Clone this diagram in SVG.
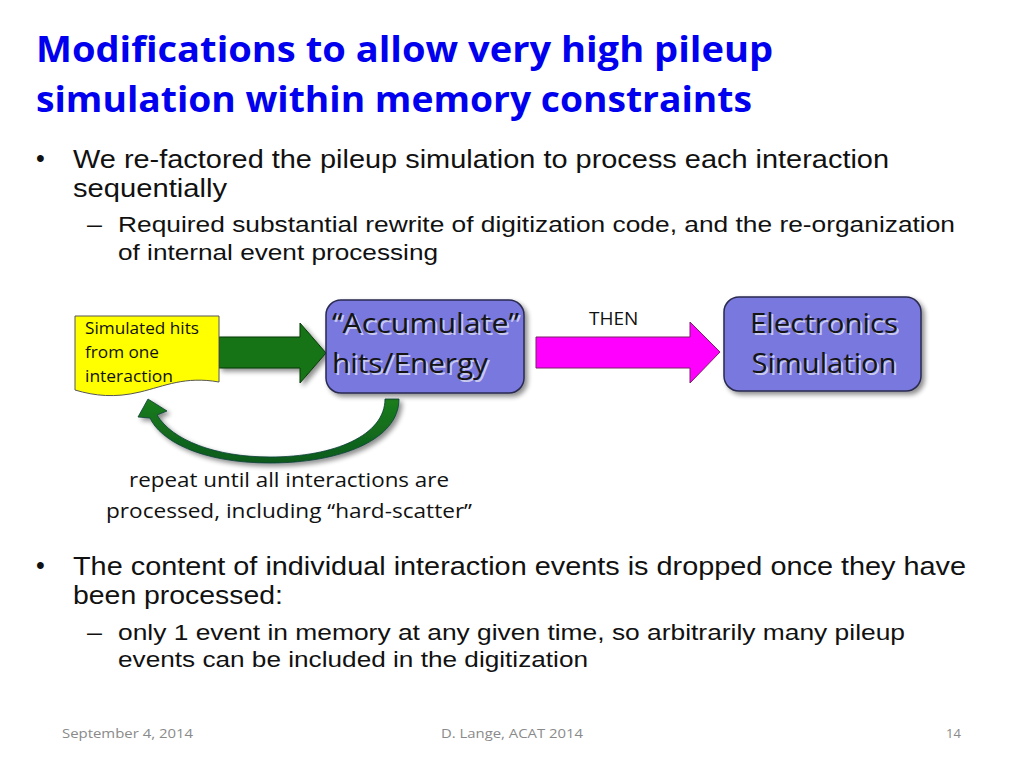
<svg xmlns="http://www.w3.org/2000/svg" width="1024" height="768" viewBox="0 0 1024 768">
<defs>
<style>
.t{font-family:"Open Sans","Noto Sans","Liberation Sans",sans-serif;}
.l{font-family:"Liberation Sans",Arial,sans-serif;}
.title{font-weight:bold;font-size:36px;fill:#0000ee;}
.b1{font-size:25px;fill:#111;}
.b2{font-size:22px;fill:#111;}
.box{fill:#7878de;stroke:#2a2a50;stroke-width:1.5;}
.boxt{font-size:27px;fill:#151515;}
.boxs{font-size:27px;fill:#c8c8ee;}
.small{font-size:16.5px;fill:#111;}
.cap{font-size:20px;fill:#111;}
.foot{font-size:13px;fill:#8a8a8a;}
</style>
<filter id="sh" x="-20%" y="-20%" width="150%" height="150%">
<feGaussianBlur in="SourceAlpha" stdDeviation="2.5"/>
<feOffset dx="3" dy="3" result="o"/>
<feComponentTransfer><feFuncA type="linear" slope="0.45"/></feComponentTransfer>
<feMerge><feMergeNode/><feMergeNode in="SourceGraphic"/></feMerge>
</filter>
<linearGradient id="gg" x1="0" y1="0" x2="0" y2="1">
<stop offset="0" stop-color="#1b7d1b"/>
<stop offset="1" stop-color="#0b5a1e"/>
</linearGradient>
</defs>
<rect width="1024" height="768" fill="#fff"/>

<g id="title" class="t title">
<text x="36" y="62" textLength="737" lengthAdjust="spacingAndGlyphs">Modifications to allow very high pileup</text>
<text x="36" y="112" textLength="716" lengthAdjust="spacingAndGlyphs">simulation within memory constraints</text>
</g>

<g id="bullets-top" class="l">
<text x="36" y="167" class="b1">•</text>
<text x="73" y="168" class="b1" textLength="816" lengthAdjust="spacingAndGlyphs">We re-factored the pileup simulation to process each interaction</text>
<text x="73" y="197" class="b1" textLength="154" lengthAdjust="spacingAndGlyphs">sequentially</text>
<text x="87" y="232" class="b2" textLength="15" lengthAdjust="spacingAndGlyphs">–</text>
<text x="118" y="232" class="b2" textLength="837" lengthAdjust="spacingAndGlyphs">Required substantial rewrite of digitization code, and the re-organization</text>
<text x="118" y="260" class="b2" textLength="320" lengthAdjust="spacingAndGlyphs">of internal event processing</text>
</g>

<g id="connectors">
<path d="M219 337 H300 V323 L326 353 L300 383 V368 H219 Z" fill="#127312" stroke="#0a3a0a" stroke-width="1" filter="url(#sh)"/>
<path d="M536 337 H690 V322 L720 352 L690 383 V368 H536 Z" fill="#ff00ff" stroke="#7a1f6a" stroke-width="1"/>
<path d="M399 399 C399 440 340 463 270 463 C200 463 160 440 150 418 L138 417 L148 399 L167 411 L157 415 C172 440 215 457 270 457 C335 457 385 435 385 399 Z" fill="url(#gg)" stroke="#0d3d3a" stroke-width="0.8" filter="url(#sh)"/>
<text x="589" y="325" class="t" font-size="19" fill="#111">THEN</text>
</g>

<g id="node-simhits">
<path d="M75 316 H219 V382 C185 376 165 386 140 392 C115 398 95 396 75 390 Z" fill="#ffff00" stroke="#555" stroke-width="1"/>
<text x="85" y="334" class="t small" textLength="114" lengthAdjust="spacingAndGlyphs">Simulated hits</text>
<text x="85" y="358" class="t small" textLength="74" lengthAdjust="spacingAndGlyphs">from one</text>
<text x="85" y="382" class="t small" textLength="88" lengthAdjust="spacingAndGlyphs">interaction</text>
</g>

<g id="node-accumulate">
<rect x="326" y="300" width="198" height="93" rx="15" class="box" filter="url(#sh)"/>
<text x="334" y="335" class="t boxs" textLength="187" lengthAdjust="spacingAndGlyphs">“Accumulate”</text>
<text x="332" y="333" class="t boxt" textLength="187" lengthAdjust="spacingAndGlyphs">“Accumulate”</text>
<text x="334" y="375" class="t boxs" textLength="156" lengthAdjust="spacingAndGlyphs">hits/Energy</text>
<text x="332" y="373" class="t boxt" textLength="156" lengthAdjust="spacingAndGlyphs">hits/Energy</text>
</g>

<g id="node-electronics">
<rect x="724" y="297" width="197" height="94" rx="15" class="box" filter="url(#sh)"/>
<text x="826" y="335" class="t boxs" text-anchor="middle" textLength="148" lengthAdjust="spacingAndGlyphs">Electronics</text>
<text x="824" y="333" class="t boxt" text-anchor="middle" textLength="148" lengthAdjust="spacingAndGlyphs">Electronics</text>
<text x="826" y="375" class="t boxs" text-anchor="middle" textLength="145" lengthAdjust="spacingAndGlyphs">Simulation</text>
<text x="824" y="373" class="t boxt" text-anchor="middle" textLength="145" lengthAdjust="spacingAndGlyphs">Simulation</text>
</g>

<g id="caption" class="t cap">
<text x="289" y="487" text-anchor="middle" textLength="320" lengthAdjust="spacingAndGlyphs">repeat until all interactions are</text>
<text x="289" y="518" text-anchor="middle" textLength="366" lengthAdjust="spacingAndGlyphs">processed, including “hard-scatter”</text>
</g>

<g id="bullets-bottom" class="l">
<text x="36" y="574" class="b1">•</text>
<text x="73" y="575" class="b1" textLength="893" lengthAdjust="spacingAndGlyphs">The content of individual interaction events is dropped once they have</text>
<text x="73" y="604" class="b1" textLength="210" lengthAdjust="spacingAndGlyphs">been processed:</text>
<text x="87" y="640" class="b2" textLength="15" lengthAdjust="spacingAndGlyphs">–</text>
<text x="118" y="640" class="b2" textLength="787" lengthAdjust="spacingAndGlyphs">only 1 event in memory at any given time, so arbitrarily many pileup</text>
<text x="118" y="667" class="b2" textLength="470" lengthAdjust="spacingAndGlyphs">events can be included in the digitization</text>
</g>

<g id="footer" class="t foot">
<text x="62" y="738" textLength="131" lengthAdjust="spacingAndGlyphs">September 4, 2014</text>
<text x="441" y="738" textLength="142" lengthAdjust="spacingAndGlyphs">D. Lange, ACAT 2014</text>
<text x="946" y="738">14</text>
</g>
</svg>
